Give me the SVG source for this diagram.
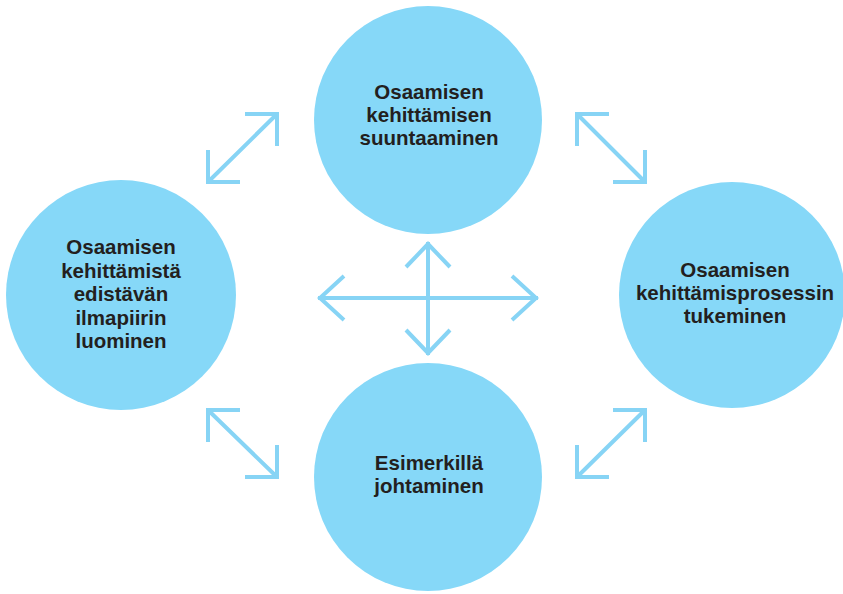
<svg xmlns="http://www.w3.org/2000/svg" width="843" height="594" viewBox="0 0 843 594">
<style>
.c{fill:#86d8f8}
.t{font-family:"Liberation Sans",Arial,sans-serif;font-weight:bold;font-size:20.5px;fill:#231f20;text-anchor:middle}
.a{stroke:#87d4f5;stroke-width:4;fill:none;stroke-linecap:butt}
</style>
<rect width="843" height="594" fill="#fff"/>
<g id="connectors">
<path class="a" d="M208,182 L277,114 M245,114 H277 V146 M208,150 V182 H240"/>
<path class="a" d="M577,114 L645,182 M609,114 H577 V146 M645,150 V182 H613"/>
<path class="a" d="M208,410 L277,477 M208,442 V410 H240 M245,477 H277 V445"/>
<path class="a" d="M577,477 L645,410 M577,445 V477 H609 M613,410 H645 V442"/>
<path class="a" d="M318,298 H538 M344,276 L320,298 L344,320 M512,276 L536,298 L512,320"/>
<path class="a" d="M428,242 V355 M406,267 L428,244 L450,267 M406,330 L428,353 L450,330"/>
</g>
<g id="top"><circle class="c" cx="428" cy="120" r="114"/>
<text class="t" x="429" y="99">Osaamisen</text><text class="t" x="429" y="122">kehittämisen</text><text class="t" x="429" y="145">suuntaaminen</text></g>
<g id="left"><circle class="c" cx="121" cy="295" r="115"/>
<text class="t" x="121" y="254">Osaamisen</text><text class="t" x="121" y="277.5">kehittämistä</text><text class="t" x="121" y="301">edistävän</text><text class="t" x="121" y="324.5">ilmapiirin</text><text class="t" x="121" y="348">luominen</text></g>
<g id="right"><circle class="c" cx="732" cy="295" r="113"/>
<text class="t" x="735" y="277">Osaamisen</text><text class="t" x="735" y="300">kehittämisprosessin</text><text class="t" x="735" y="323">tukeminen</text></g>
<g id="bottom"><circle class="c" cx="428" cy="477" r="114"/>
<text class="t" x="429" y="470">Esimerkillä</text><text class="t" x="429" y="493">johtaminen</text></g>
</svg>
